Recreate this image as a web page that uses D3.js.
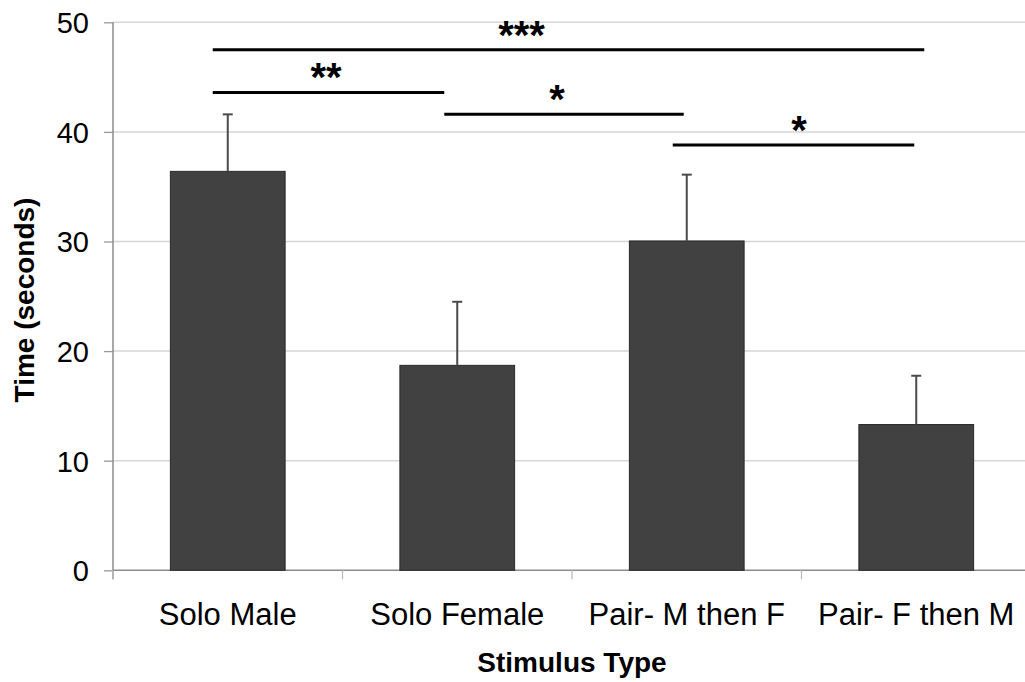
<!DOCTYPE html>
<html>
<head>
<meta charset="utf-8">
<script src="https://cdn.jsdelivr.net/npm/d3@7"></script>
<style>
  html, body { margin: 0; padding: 0; background: #fff; }
  svg { display: block; }
  text { font-family: "Liberation Sans", Arial, Helvetica, sans-serif; fill: #000; }
</style>
</head>
<body>
<svg id="chart" width="1025" height="682"></svg>
<script>
// ---- data ----
const categories = ["Solo Male", "Solo Female", "Pair- M then F", "Pair- F then M"];
const means = [36.4, 18.7, 30.05, 13.3];
const upperErrors = [5.2, 5.8, 6.05, 4.45];
const yTicks = [0, 10, 20, 30, 40, 50];
const sigFrom = ["Solo Male", "Solo Female", "Pair- M then F", "Solo Male"];
const sigTo = ["Solo Female", "Pair- M then F", "Pair- F then M", "Pair- F then M"];
const sigLevels = [43.6, 41.6, 38.8, 47.5];
const sigLabels = ["**", "*", "*", "***"];
const yTitle = "Time (seconds)";
const xTitle = "Stimulus Type";

// ---- layout ----
const W = 1025, H = 682;
const left = 113, bandStep = 229.5;
const yTop = 22.3, yBottom = 570.3;
const sigStartOffset = [-15, -13, -14, -15];
const sigEndOffset = [-13, -3, -2, 8];
const sigLabelOffset = [-2.5, -7, 5.5, -47];

const svg = d3.select("#chart");
const x = d3.scaleBand().domain(categories).range([left, left + bandStep * categories.length]).paddingInner(0.5).paddingOuter(0.25);
const y = d3.scaleLinear().domain([0, 50]).range([yBottom, yTop]);

// gridlines
svg.append("g").selectAll("line").data(yTicks.filter(d => d > 0)).join("line")
  .attr("x1", left).attr("x2", W)
  .attr("y1", d => y(d)).attr("y2", d => y(d))
  .attr("stroke", "#d6d6d6").attr("stroke-width", 1.5);

// y axis
const yAxis = d3.axisLeft(y).tickValues(yTicks).tickSize(9).tickPadding(15).tickFormat(d3.format("d"));
const gy = svg.append("g").attr("transform", `translate(${left},0)`).call(yAxis);
gy.select(".domain").remove();
gy.selectAll(".tick line").attr("stroke", "#999").attr("stroke-width", 1.3);
gy.selectAll(".tick text").attr("font-size", 29).attr("fill", "#000")
  .attr("font-family", "'Liberation Sans', Arial, sans-serif").attr("dy", "0.36em");
svg.append("line").attr("x1", left).attr("x2", left).attr("y1", yTop).attr("y2", yBottom + 9)
  .attr("stroke", "#8c8c8c").attr("stroke-width", 1.5);

// x axis
const gx = svg.append("g").attr("transform", `translate(0,${yBottom})`);
gx.append("line").attr("x1", left).attr("x2", W).attr("y1", 0).attr("y2", 0)
  .attr("stroke", "#8c8c8c").attr("stroke-width", 1.5);
const boundaries = d3.range(categories.length + 1).map(i => left + i * bandStep);
gx.selectAll("line.tk").data(boundaries).join("line").attr("class", "tk")
  .attr("x1", d => d).attr("x2", d => d).attr("y1", 0).attr("y2", 9)
  .attr("stroke", "#bbb").attr("stroke-width", 1.3);
gx.selectAll("text").data(categories).join("text")
  .attr("x", d => x(d) + x.bandwidth() / 2).attr("y", 55)
  .attr("text-anchor", "middle").attr("font-size", 31).text(d => d);

// bars
svg.append("g").selectAll("rect").data(categories).join("rect")
  .attr("x", d => x(d)).attr("width", x.bandwidth())
  .attr("y", (d, i) => y(means[i])).attr("height", (d, i) => y(0) - y(means[i]))
  .attr("fill", "#414141").attr("stroke", "#2a2a2a").attr("stroke-width", 1);

// error bars
const eb = svg.append("g").attr("stroke", "#4a4a4a").attr("stroke-width", 2);
categories.forEach((c, i) => {
  const cx = x(c) + x.bandwidth() / 2;
  eb.append("line").attr("x1", cx).attr("x2", cx).attr("y1", y(means[i])).attr("y2", y(means[i] + upperErrors[i]));
  eb.append("line").attr("x1", cx - 5).attr("x2", cx + 5).attr("y1", y(means[i] + upperErrors[i])).attr("y2", y(means[i] + upperErrors[i]));
});

// significance brackets
const sg = svg.append("g");
sigLabels.forEach((lab, i) => {
  const x1 = x(sigFrom[i]) + x.bandwidth() / 2 + sigStartOffset[i];
  const x2 = x(sigTo[i]) + x.bandwidth() / 2 + sigEndOffset[i];
  const yy = y(sigLevels[i]);
  sg.append("line").attr("x1", x1).attr("x2", x2).attr("y1", yy).attr("y2", yy)
    .attr("stroke", "#000").attr("stroke-width", 3);
  sg.append("text").attr("x", (x1 + x2) / 2 + sigLabelOffset[i]).attr("y", yy - 19 + 18)
    .attr("text-anchor", "middle").attr("font-size", 40).attr("font-weight", "bold").text(lab);
});

// axis titles
svg.append("text").attr("transform", "translate(34,300) rotate(-90)")
  .attr("text-anchor", "middle").attr("font-size", 28).attr("font-weight", "bold").text(yTitle);
svg.append("text").attr("x", 572).attr("y", 672)
  .attr("text-anchor", "middle").attr("font-size", 28).attr("font-weight", "bold").text(xTitle);
</script>
</body>
</html>
